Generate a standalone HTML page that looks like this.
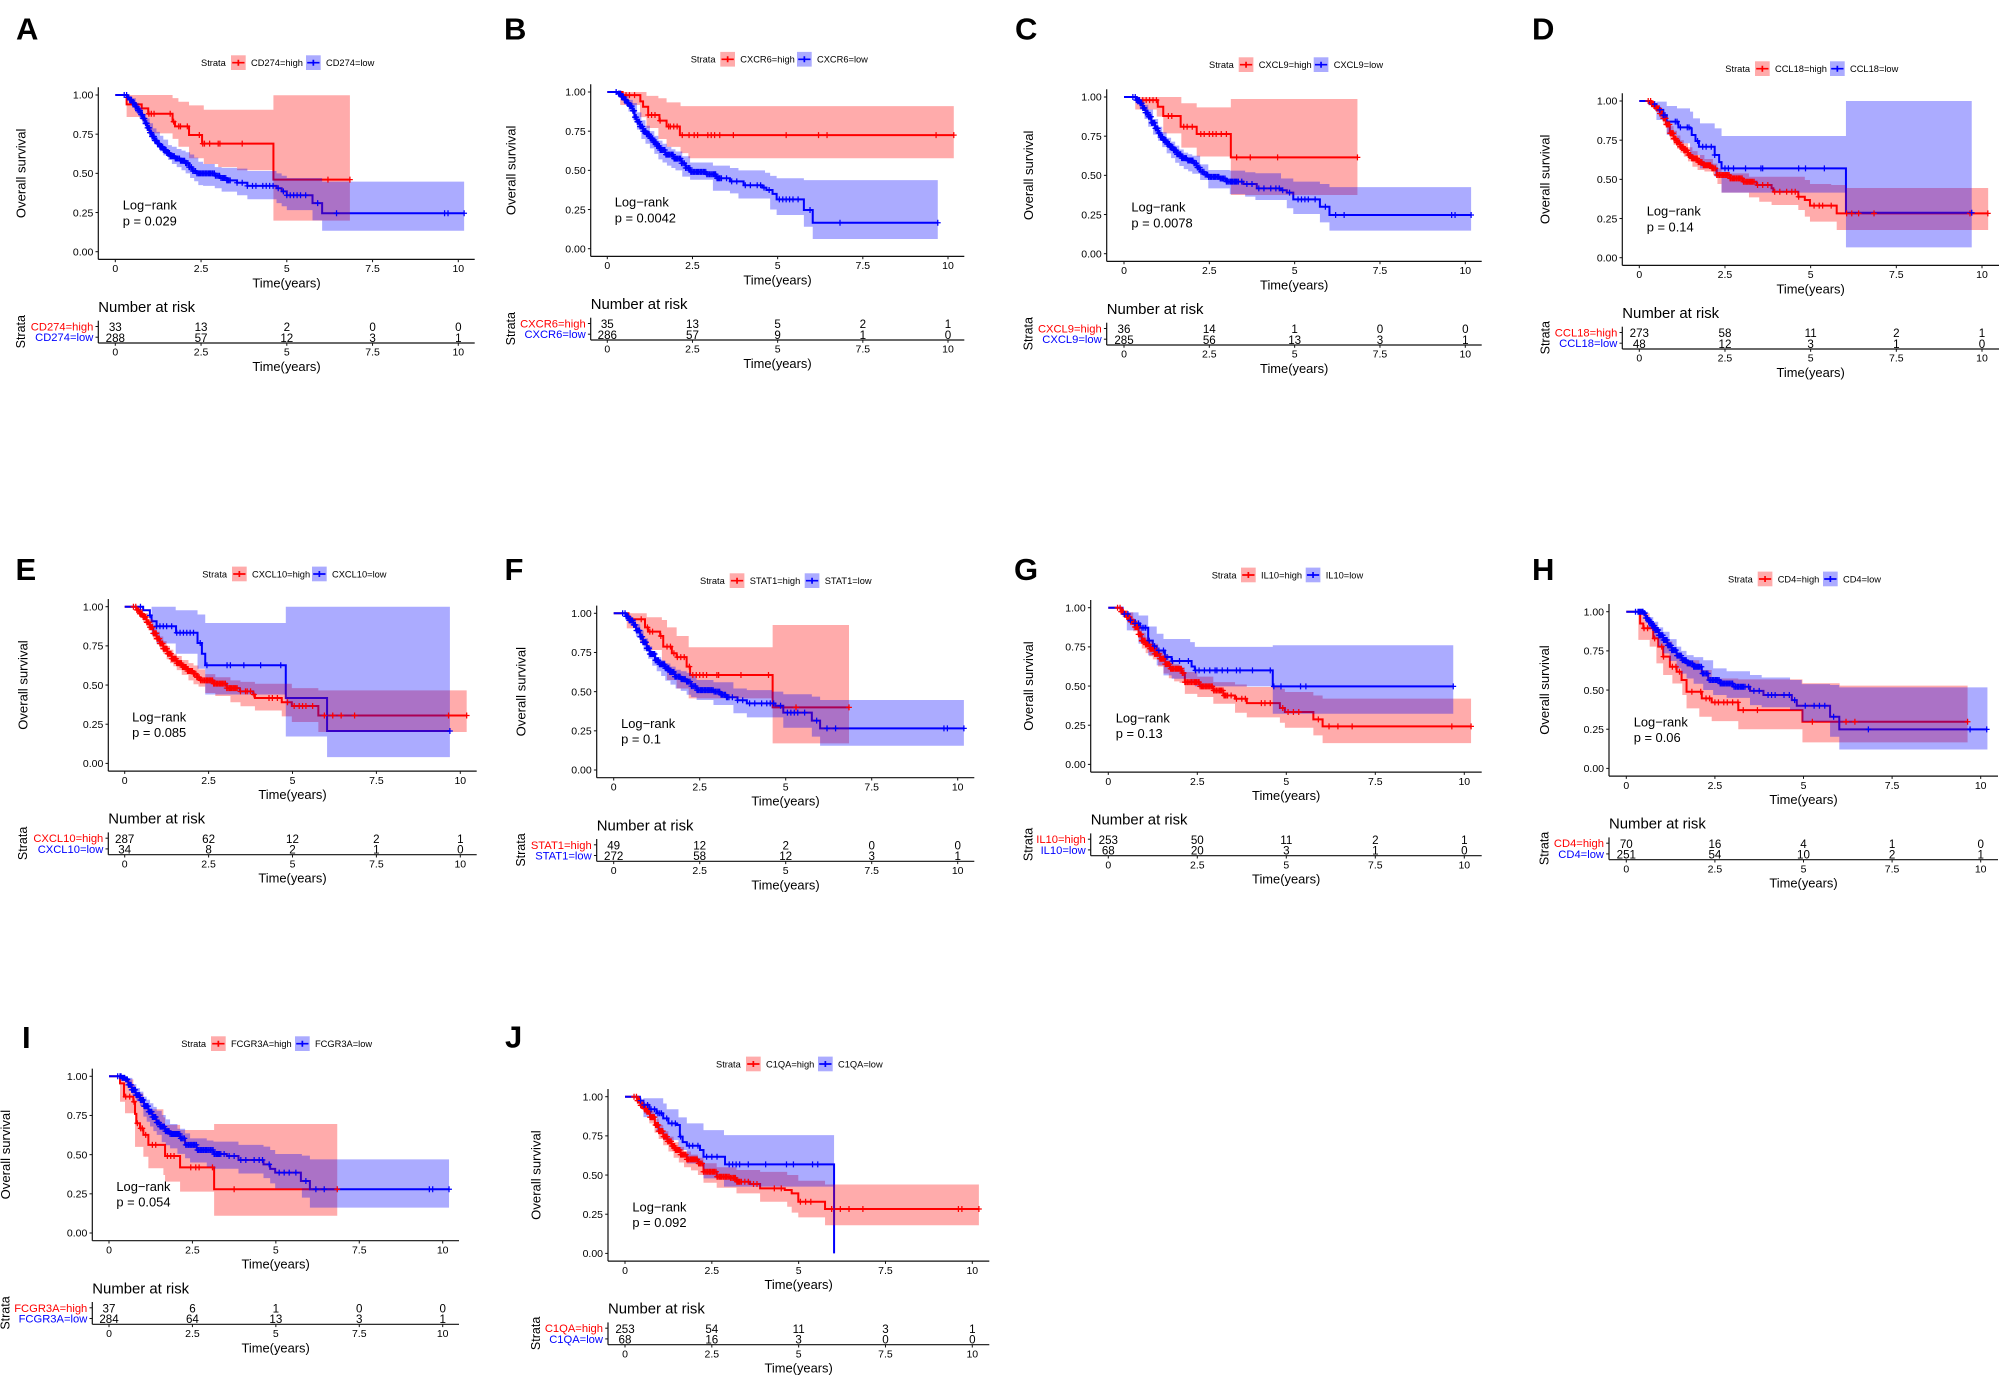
<!DOCTYPE html>
<html lang="en">
<head>
<meta charset="utf-8">
<title>Kaplan-Meier survival panels</title>
<style>
html,body{margin:0;padding:0;background:#fff}
svg{display:block;font-family:"Liberation Sans",Arial,sans-serif}
</style>
</head>
<body>
<svg id="figure" xmlns="http://www.w3.org/2000/svg" width="2000" height="1376" viewBox="0 0 2000 1376">
<rect x="0" y="0" width="2000" height="1376" fill="#fff"/>
</svg>
<script>
const xTicks=[0,2.5,5,7.5,10];
const xTickLabels=['0','2.5','5','7.5','10'];
const yTicks=[0,0.25,0.5,0.75,1];
const yTickLabels=['0.00','0.25','0.50','0.75','1.00'];
const panelLetters=['A','B','C','D','E','F','G','H','I','J'];
const highLabels=['CD274=high','CXCR6=high','CXCL9=high','CCL18=high','CXCL10=high','STAT1=high','IL10=high','CD4=high','FCGR3A=high','C1QA=high'];
const lowLabels=['CD274=low','CXCR6=low','CXCL9=low','CCL18=low','CXCL10=low','STAT1=low','IL10=low','CD4=low','FCGR3A=low','C1QA=low'];
const pValues=['p = 0.029','p = 0.0042','p = 0.0078','p = 0.14','p = 0.085','p = 0.1','p = 0.13','p = 0.06','p = 0.054','p = 0.092'];
const riskHigh=[[33,13,2,0,0],[35,13,5,2,1],[36,14,1,0,0],[273,58,11,2,1],[287,62,12,2,1],[49,12,2,0,0],[253,50,11,2,1],[70,16,4,1,0],[37,6,1,0,0],[253,54,11,3,1]];
const riskLow=[[288,57,12,3,1],[286,57,9,1,0],[285,56,13,3,1],[48,12,3,1,0],[34,8,2,1,0],[272,58,12,3,1],[68,20,3,1,0],[251,54,10,2,1],[284,64,13,3,1],[68,16,3,0,0]];

/* shared early censoring times of the large groups */
const denseEarly=[.26,.33,.36,.39,.42,.45,.47,.5,.52,.55,.58,.6,.63,.66,.68,.7,.72,.75,.77,.79,.81,.83,.85,.88,.9,.92,.94,.96,.97,.99,1.01,1.03,1.05,1.07,1.09,1.11,1.13,1.15,1.17,1.19,1.21,1.23,1.26,1.28,1.3,1.33,1.35,1.38,1.4,1.43,1.45,1.48,1.5,1.53,1.55,1.58,1.6,1.63,1.66,1.69,1.72,1.75,1.78,1.8,1.83,1.87,1.9,1.93,1.96,1.99,2.02,2.05,2.08,2.12,2.15,2.18,2.22,2.26,2.3,2.34,2.38,2.42,2.45,2.48,2.52,2.55,2.58,2.62,2.65,2.68,2.72,2.75,2.78,2.82,2.85,2.89,2.92,2.96,3,3.04,3.08,3.12,3.15,3.18,3.22,3.25,3.28,3.31,3.35];

/* A */
const aHighCurve=[[0,1],[.33,.94],[.77,.915],[.96,.88],[1.67,.83],[1.74,.8],[2.15,.745],[2.53,.69],[4.61,.46],[6.84,.46]];
const aHighBand=[[.33,1,.86],[.77,1,.836],[.96,1,.755],[1.67,.98,.72],[1.84,.957,.67],[2.15,.934,.596],[2.58,.906,.56],[3,.906,.54],[3.55,.906,.52],[4.61,.998,.198],[6.84,.998,.198]];
const aHighCensor=[.98,1.05,1.13,1.6,1.7,1.85,1.9,2.1,2.45,2.55,2.6,2.75,3,3.05,3.7,6.2,6.84];
const aLowCurve=[[0,1],[.28,1],[.35,.985],[.42,.97],[.5,.95],[.58,.925],[.66,.9],[.74,.875],[.8,.85],[.87,.82],[.93,.79],[1,.76],[1.07,.735],[1.14,.71],[1.22,.69],[1.3,.67],[1.4,.65],[1.5,.63],[1.6,.61],[1.75,.595],[1.9,.58],[2.05,.565],[2.15,.54],[2.25,.515],[2.37,.5],[2.9,.485],[3.05,.47],[3.25,.455],[3.55,.44],[3.85,.42],[4.7,.405],[4.85,.385],[5,.36],[5.75,.31],[6.03,.245],[10.17,.245]];
const aLowBand=[[.28,1,1],[.4,.99,.95],[.5,.98,.92],[.6,.95,.885],[.7,.92,.85],[.8,.88,.81],[.9,.85,.77],[1,.82,.74],[1.1,.787,.713],[1.2,.765,.68],[1.3,.74,.64],[1.4,.715,.615],[1.54,.68,.585],[1.65,.67,.56],[1.79,.655,.54],[1.93,.645,.52],[2.05,.635,.5],[2.18,.62,.47],[2.3,.6,.45],[2.42,.574,.425],[2.56,.56,.42],[2.9,.54,.405],[3.1,.535,.383],[3.55,.53,.36],[3.85,.515,.335],[4.7,.5,.31],[4.85,.485,.29],[5,.47,.265],[5.75,.47,.2],[6.03,.447,.134],[10.17,.447,.134]];
const aLowCensor=[3.55,3.7,3.85,4,4.1,4.3,4.4,4.5,4.6,4.75,4.9,5,5.1,5.2,5.3,5.4,5.55,5.9,6.45,9.6,9.7,10.17];

/* B */
const bHighCurve=[[0,1],[.45,.98],[.97,.94],[1.05,.906],[1.2,.853],[1.53,.817],[1.74,.78],[2.13,.725],[10.17,.725]];
const bHighBand=[[.38,1,.917],[.96,1,.84],[1.15,.975,.77],[1.5,.96,.7],[1.74,.934,.65],[2.15,.91,.61],[2.38,.91,.577],[10.17,.91,.577]];
const bHighCensor=[.55,.65,.8,1.2,1.3,1.4,1.55,1.8,1.85,1.95,2.05,2.2,2.4,2.55,2.65,2.95,3.05,3.15,3.3,3.7,5.25,6.2,6.45,9.65,10.17];
const bLowCurve=[[0,1],[.3,.99],[.4,.97],[.5,.95],[.58,.93],[.66,.91],[.74,.88],[.8,.84],[.86,.81],[.96,.78],[1.05,.75],[1.15,.73],[1.25,.705],[1.35,.68],[1.45,.655],[1.55,.63],[1.7,.6],[1.94,.575],[2.18,.545],[2.3,.515],[2.43,.49],[2.9,.475],[3.2,.45],[3.6,.43],[4,.405],[4.55,.39],[4.67,.375],[4.85,.35],[4.97,.315],[5.77,.247],[6.03,.166],[9.7,.166]];
const bLowBand=[[.3,1,1],[.4,.99,.95],[.5,.98,.92],[.62,.95,.875],[.75,.93,.82],[.87,.87,.76],[1,.82,.7],[1.12,.785,.67],[1.25,.75,.64],[1.38,.72,.605],[1.5,.69,.57],[1.62,.67,.55],[1.75,.65,.53],[1.88,.635,.515],[2,.62,.5],[2.2,.59,.46],[2.43,.55,.44],[3.1,.53,.37],[3.6,.515,.353],[3.85,.5,.32],[4.63,.485,.32],[4.78,.465,.25],[4.97,.45,.215],[5.77,.438,.14],[6.03,.438,.062],[9.7,.438,.062]];
const bLowCensor=[3.5,3.65,3.8,4.05,4.2,4.4,4.5,4.6,4.75,5.05,5.15,5.25,5.35,5.45,5.6,5.95,6.83,9.7];

/* C */
const cHighCurve=[[0,1],[.37,.98],[.99,.938],[1.15,.879],[1.66,.81],[2.13,.764],[3.13,.615],[6.84,.615]];
const cHighBand=[[.33,1,.92],[.96,1,.875],[1.15,1,.768],[1.68,.96,.677],[2.13,.934,.62],[3.13,.987,.375],[6.84,.987,.375]];
const cHighCensor=[.45,.55,.65,.75,.85,.95,1.3,1.4,1.75,1.85,2,2.25,2.35,2.5,2.6,2.7,2.85,3,3.3,3.7,4.5,6.84];
const cLowCurve=[[0,1],[.28,1],[.35,.98],[.47,.96],[.55,.93],[.63,.9],[.71,.874],[.8,.835],[.91,.8],[1,.77],[1.07,.745],[1.15,.725],[1.25,.7],[1.35,.68],[1.45,.66],[1.55,.635],[1.69,.61],[1.85,.595],[2.03,.577],[2.13,.55],[2.23,.523],[2.35,.505],[2.47,.49],[2.81,.48],[3,.46],[3.5,.445],[3.89,.417],[4.6,.405],[4.77,.39],[4.96,.347],[5.74,.3],[6.02,.247],[10.17,.247]];
const cLowBand=[[.28,1,1],[.38,.99,.95],[.47,.98,.92],[.6,.95,.86],[.71,.92,.81],[.85,.86,.76],[1,.81,.72],[1.12,.775,.68],[1.25,.74,.64],[1.38,.715,.61],[1.5,.69,.58],[1.62,.665,.56],[1.75,.645,.54],[1.88,.635,.525],[2,.625,.51],[2.23,.57,.47],[2.47,.534,.417],[3.1,.53,.38],[3.55,.52,.364],[3.85,.513,.343],[4.6,.48,.343],[4.77,.48,.29],[4.96,.46,.253],[5.74,.445,.2],[6.02,.425,.147],[10.17,.425,.147]];
const cLowCensor=[3.45,3.6,3.75,3.95,4.1,4.3,4.45,4.55,4.65,4.85,5.1,5.2,5.3,5.4,5.6,5.9,6.2,6.45,9.6,9.7,10.17];

/* D */
const dHighCurve=[[0,1],[.26,1],[.35,.98],[.43,.965],[.5,.953],[.6,.92],[.7,.889],[.78,.85],[.89,.794],[1,.76],[1.09,.735],[1.19,.708],[1.3,.685],[1.42,.655],[1.53,.634],[1.7,.61],[1.87,.59],[2.11,.57],[2.26,.528],[2.65,.506],[3.03,.485],[3.42,.464],[3.86,.443],[3.91,.421],[4.64,.389],[4.83,.368],[4.98,.332],[5.76,.283],[10.18,.283]];
const dHighBand=[[.26,1,1],[.4,.985,.95],[.5,.97,.93],[.6,.945,.895],[.7,.915,.85],[.8,.875,.79],[.9,.84,.75],[1,.81,.72],[1.1,.78,.695],[1.2,.75,.67],[1.3,.73,.645],[1.42,.705,.615],[1.55,.68,.58],[1.7,.655,.56],[1.9,.63,.55],[2.15,.6,.53],[2.28,.57,.47],[2.4,.538,.415],[3.2,.517,.385],[3.5,.517,.357],[3.86,.517,.336],[4.64,.517,.304],[4.83,.496,.262],[4.98,.47,.23],[5.6,.464,.23],[5.76,.464,.177],[6.03,.445,.177],[10.18,.445,.177]];
const dHighCensor=[3.45,3.6,3.75,3.95,4.1,4.3,4.45,4.55,4.65,5.1,5.25,5.35,5.6,6.05,6.2,6.4,6.85,9.65,10.17];
const dLowCurve=[[0,1],[.3,.98],[.5,.943],[.7,.91],[.8,.868],[1.14,.832],[1.48,.825],[1.53,.783],[1.64,.745],[1.74,.708],[2.2,.655],[2.33,.61],[2.4,.57],[6.03,.287],[9.7,.287]];
const dLowBand=[[.5,.996,.879],[.8,.968,.783],[1.1,.953,.73],[1.48,.932,.655],[1.57,.889,.655],[1.77,.857,.57],[2.2,.825,.517],[2.4,.777,.415],[6.03,1,.066],[9.7,1,.066]];
const dLowCensor=[.45,.6,.7,.75,1.05,1.1,1.2,1.4,1.45,1.7,1.85,1.95,2.1,2.2,2.5,2.6,2.75,3.1,3.55,3.6,4.65,4.85,5.4,9.7];

/* E */
const eHighCurve=[[0,1],[.26,1],[.35,.98],[.45,.955],[.55,.934],[.65,.9],[.75,.87],[.85,.83],[.95,.796],[1.05,.765],[1.15,.732],[1.27,.7],[1.4,.668],[1.55,.64],[1.7,.615],[1.87,.59],[2.05,.572],[2.15,.55],[2.25,.53],[2.65,.509],[3.04,.48],[3.43,.46],[3.83,.44],[3.88,.417],[4.68,.39],[4.98,.366],[5.77,.306],[10.19,.306]];
const eHighBand=[[.26,1,1],[.4,.985,.95],[.55,.96,.9],[.7,.92,.85],[.85,.87,.79],[.95,.84,.76],[1.05,.81,.73],[1.15,.78,.7],[1.25,.75,.665],[1.35,.725,.64],[1.45,.7,.62],[1.55,.685,.595],[1.7,.66,.565],[1.9,.64,.53],[2.05,.625,.505],[2.2,.6,.49],[2.4,.57,.449],[2.7,.55,.43],[3.15,.53,.39],[3.45,.52,.365],[3.88,.508,.338],[4.68,.508,.3],[4.98,.48,.264],[5.77,.466,.2],[10.19,.466,.2]];
const eHighCensor=[3.45,3.6,3.65,3.75,3.85,4.3,4.4,4.55,4.85,5.05,5.2,5.3,5.4,5.6,5.95,6.2,6.45,6.85,9.65,10.19];
const eLowCurve=[[0,1],[.46,1],[.55,.977],[.75,.945],[.8,.907],[.95,.875],[1.53,.834],[2.17,.768],[2.3,.7],[2.4,.626],[4.8,.417],[6.03,.207],[9.69,.207]];
const eLowBand=[[.55,1,1],[.8,1,.82],[.95,1,.765],[1.52,.977,.7],[2.17,.95,.604],[2.4,.896,.44],[4.8,1,.172],[6.03,1,.04],[9.69,1,.04]];
const eLowCensor=[.47,.75,.95,1.05,1.15,1.25,1.4,1.55,1.65,1.75,1.85,1.95,2.05,2.25,2.45,3.05,3.15,3.55,4.05,4.65,9.69];

/* F */
const fHighCurve=[[0,1],[.43,.962],[.91,.91],[1,.883],[1.35,.855],[1.44,.787],[1.69,.745],[1.83,.72],[2.12,.66],[2.22,.606],[4.62,.4],[6.84,.4]];
const fHighBand=[[.38,1,.904],[.77,1,.81],[.96,.975,.766],[1.4,.957,.68],[1.55,.91,.574],[1.83,.855,.52],[2.18,.783,.457],[4.62,.925,.17],[6.84,.925,.17]];
const fHighCensor=[.5,.8,.98,1.05,1.13,1.37,1.55,1.65,1.75,1.85,1.95,2.05,2.2,2.3,2.4,2.5,2.6,2.7,3,3.05,3.7,4.5,5.3,6.84];
const fLowCurve=[[0,1],[.28,1],[.36,.98],[.45,.955],[.57,.926],[.65,.89],[.77,.85],[.85,.815],[.96,.777],[1.05,.74],[1.2,.7],[1.32,.675],[1.49,.649],[1.62,.625],[1.78,.596],[1.95,.58],[2.12,.564],[2.25,.535],[2.41,.51],[2.9,.5],[3.1,.48],[3.28,.464],[3.6,.445],[3.87,.425],[4.7,.41],[4.93,.366],[5.76,.315],[6,.266],[10.18,.266]];
const fLowBand=[[.28,1,1],[.4,.985,.95],[.5,.965,.92],[.65,.93,.85],[.77,.89,.81],[.87,.84,.76],[1,.79,.71],[1.12,.755,.665],[1.25,.72,.63],[1.38,.7,.6],[1.5,.68,.57],[1.65,.66,.545],[1.8,.64,.52],[1.95,.63,.505],[2.12,.62,.48],[2.25,.6,.465],[2.41,.574,.447],[2.9,.56,.415],[3.48,.52,.362],[3.87,.51,.336],[4.6,.5,.336],[4.93,.483,.27],[5.76,.468,.213],[6,.447,.155],[10.18,.447,.155]];
const fLowCensor=[3.45,3.6,3.75,3.95,4.1,4.3,4.45,4.55,4.65,4.85,5.05,5.15,5.25,5.35,5.55,5.9,6.2,6.45,9.6,9.7,10.18];

/* G */
const gHighCurve=[[0,1],[.25,1],[.35,.975],[.43,.96],[.52,.94],[.63,.91],[.75,.877],[.85,.83],[.94,.79],[1.05,.765],[1.17,.738],[1.3,.705],[1.45,.674],[1.6,.64],[1.73,.61],[2.06,.583],[2.15,.525],[2.57,.498],[2.95,.472],[3.23,.44],[3.56,.419],[3.89,.391],[4.82,.36],[4.96,.334],[5.76,.287],[6.02,.243],[10.19,.243]];
const gHighBand=[[.25,1,1],[.4,.985,.94],[.55,.97,.91],[.7,.92,.85],[.85,.87,.78],[.94,.84,.74],[1.05,.81,.71],[1.15,.79,.69],[1.25,.77,.67],[1.4,.73,.625],[1.55,.7,.58],[1.7,.665,.55],[1.85,.64,.53],[2,.62,.52],[2.15,.59,.45],[2.5,.56,.43],[2.95,.525,.387],[3.56,.51,.33],[3.89,.494,.3],[4.82,.483,.266],[4.96,.462,.234],[5.76,.44,.185],[6.02,.42,.136],[10.19,.42,.136]];
const gHighCensor=[3.45,3.6,3.75,3.85,4.3,4.4,4.55,4.9,5.05,5.2,5.35,5.9,6.2,6.45,6.85,9.65,10.19];
const gLowCurve=[[0,1],[.25,1],[.4,.96],[.56,.92],[.75,.9],[.89,.872],[1.12,.79],[1.25,.755],[1.36,.727],[1.59,.685],[1.78,.66],[2.34,.625],[2.43,.6],[4.62,.498],[9.69,.498]];
const gLowBand=[[.52,.97,.855],[.85,.95,.77],[1.12,.88,.696],[1.36,.834,.632],[1.55,.8,.568],[1.78,.8,.547],[2.3,.78,.52],[2.43,.75,.498],[4.62,.76,.323],[9.69,.76,.323]];
const gLowCensor=[.45,.55,.62,.75,.85,.95,1,1.05,1.15,1.3,1.42,1.55,1.65,1.8,2,2.25,2.45,2.55,2.7,2.85,3,3.05,3.2,3.35,3.6,3.7,4.05,4.55,4.65,4.85,5.4,5.55,9.69];

/* H */
const hHighCurve=[[0,1],[.27,1],[.39,.925],[.48,.894],[.76,.83],[.9,.777],[1.04,.713],[1.23,.649],[1.42,.617],[1.56,.564],[1.7,.489],[2.13,.447],[2.41,.421],[3.16,.372],[4.97,.298],[9.63,.298]];
const hHighBand=[[.34,.99,.82],[.66,.925,.777],[.85,.862,.67],[1.04,.81,.596],[1.3,.734,.542],[1.58,.69,.468],[1.7,.69,.383],[2.06,.628,.33],[2.41,.574,.302],[3.16,.568,.25],[4.97,.543,.166],[6.02,.528,.166],[9.63,.528,.166]];
const hHighCensor=[.5,.6,.8,1,1.05,1.3,1.4,1.5,1.85,2.1,2.25,2.35,2.5,2.6,2.75,2.85,3,3.15,3.3,3.7,5.25,6.2,6.45,9.63];
const hLowCurve=[[0,1],[.27,1],[.48,.99],[.55,.96],[.62,.936],[.72,.91],[.81,.883],[.92,.85],[1.04,.819],[1.16,.785],[1.28,.755],[1.42,.72],[1.56,.691],[1.7,.67],[1.89,.649],[2.13,.606],[2.31,.564],[2.64,.542],[3.02,.521],[3.49,.495],[3.87,.468],[4.67,.436],[4.81,.4],[5.75,.33],[6.01,.249],[10.19,.249]];
const hLowBand=[[.48,1,.99],[.62,.965,.89],[.76,.936,.83],[.9,.9,.78],[1.04,.872,.734],[1.22,.825,.685],[1.42,.777,.638],[1.55,.75,.605],[1.7,.723,.574],[1.9,.71,.54],[2.17,.69,.5],[2.45,.638,.468],[2.83,.62,.45],[3.49,.596,.404],[3.82,.58,.39],[4.62,.564,.372],[4.95,.538,.298],[5.75,.532,.202],[6.01,.517,.121],[10.19,.517,.121]];
const hLowCensor=[3.45,3.6,3.75,4,4.1,4.2,4.45,4.6,4.75,5.05,5.3,5.45,5.6,5.85,6.83,9.7,10.17];

/* I */
const iHighCurve=[[0,1],[.33,.955],[.45,.87],[.73,.838],[.78,.76],[.82,.7],[.93,.668],[1.03,.626],[1.18,.562],[1.68,.491],[2.13,.419],[3.15,.279],[6.84,.279]];
const iHighBand=[[.33,.98,.838],[.48,.98,.764],[.73,.945,.764],[.78,.89,.55],[1.03,.83,.487],[1.18,.79,.413],[1.63,.738,.37],[1.68,.69,.328],[2.13,.657,.264],[3.15,.696,.11],[6.84,.696,.11]];
const iHighCensor=[.5,.62,.75,.85,.95,1,1.1,1.3,1.4,1.75,1.85,1.95,2.45,2.6,2.7,3.1,3.75,6.84];
const iLowCurve=[[0,1],[.28,1],[.38,.99],[.48,.98],[.58,.945],[.68,.913],[.8,.88],[.93,.849],[1.05,.81],[1.18,.774],[1.3,.74],[1.42,.705],[1.53,.679],[1.68,.65],[1.83,.632],[2.13,.604],[2.28,.562],[2.63,.53],[3.13,.504],[3.53,.491],[3.88,.466],[4.63,.438],[4.83,.409],[4.98,.385],[5.75,.332],[6.02,.279],[10.19,.279]];
const iLowBand=[[.28,1,1],[.53,.99,.95],[.7,.95,.88],[.82,.925,.84],[.93,.902,.81],[1.03,.87,.743],[1.13,.85,.71],[1.23,.828,.68],[1.33,.805,.65],[1.43,.78,.626],[1.58,.753,.58],[1.7,.725,.56],[1.83,.696,.54],[2.05,.665,.505],[2.28,.636,.477],[2.43,.604,.45],[2.93,.59,.423],[3.13,.583,.41],[3.88,.562,.38],[4.63,.551,.35],[4.83,.53,.317],[4.98,.504,.285],[5.78,.494,.226],[6.02,.47,.162],[10.19,.47,.162]];
const iLowCensor=[3.45,3.6,3.75,3.95,4.1,4.35,4.5,4.6,4.8,5.1,5.25,5.4,5.6,5.9,6.2,6.45,9.6,9.7,10.19];

/* J */
const jHighCurve=[[0,1],[.26,1],[.36,.975],[.45,.945],[.53,.925],[.62,.904],[.72,.87],[.86,.819],[.97,.78],[1.1,.745],[1.22,.715],[1.34,.685],[1.44,.66],[1.6,.63],[1.78,.6],[2.11,.574],[2.26,.521],[2.64,.489],[3.02,.482],[3.21,.457],[3.6,.443],[3.89,.415],[4.6,.405],[4.8,.383],[4.99,.33],[5.76,.283],[10.19,.283]];
const jHighBand=[[.26,1,1],[.4,.98,.94],[.55,.96,.89],[.7,.91,.83],[.85,.86,.77],[.97,.82,.73],[1.1,.78,.69],[1.25,.745,.65],[1.4,.71,.61],[1.55,.68,.58],[1.7,.65,.55],[1.9,.63,.53],[2.1,.61,.5],[2.26,.575,.451],[2.64,.55,.419],[3.21,.532,.383],[3.89,.52,.33],[4.67,.5,.298],[4.8,.5,.26],[4.99,.464,.23],[5.76,.44,.18],[10.19,.44,.18]];
const jHighCensor=[3.45,3.55,3.7,3.8,4.3,4.5,5.05,5.2,5.35,5.95,6.2,6.45,6.85,9.6,9.7,10.19];
const jLowCurve=[[0,1],[.3,1],[.43,.975],[.53,.947],[.7,.92],[.91,.894],[1.1,.862],[1.25,.83],[1.49,.819],[1.58,.745],[1.66,.71],[1.78,.687],[2.16,.66],[2.26,.617],[2.88,.568],[6.02,0]];
const jLowBand=[[.53,.99,.87],[.91,.99,.777],[1.1,.957,.723],[1.2,.92,.723],[1.54,.868,.66],[1.78,.83,.574],[2.26,.787,.479],[2.85,.755,.426],[6.02,.755,.426]];
const jLowCensor=[.45,.55,.65,.75,.85,.95,1,1.05,1.2,1.35,1.45,1.6,1.85,1.95,2.1,2.35,2.5,2.65,3,3.1,3.2,3.3,3.55,4.05,4.65,4.85,5.4,5.55];

const highCurves=[aHighCurve,bHighCurve,cHighCurve,dHighCurve,eHighCurve,fHighCurve,gHighCurve,hHighCurve,iHighCurve,jHighCurve];
const highBands=[aHighBand,bHighBand,cHighBand,dHighBand,eHighBand,fHighBand,gHighBand,hHighBand,iHighBand,jHighBand];
const highCensors=[aHighCensor,bHighCensor,cHighCensor,dHighCensor.concat(denseEarly),eHighCensor.concat(denseEarly),fHighCensor,gHighCensor.concat(denseEarly),hHighCensor,iHighCensor,jHighCensor.concat(denseEarly)];
const lowCurves=[aLowCurve,bLowCurve,cLowCurve,dLowCurve,eLowCurve,fLowCurve,gLowCurve,hLowCurve,iLowCurve,jLowCurve];
const lowBands=[aLowBand,bLowBand,cLowBand,dLowBand,eLowBand,fLowBand,gLowBand,hLowBand,iLowBand,jLowBand];
const lowCensors=[aLowCensor.concat(denseEarly),bLowCensor.concat(denseEarly),cLowCensor.concat(denseEarly),dLowCensor,eLowCensor,fLowCensor.concat(denseEarly),gLowCensor,hLowCensor.concat(denseEarly),iLowCensor.concat(denseEarly),jLowCensor];

/* page layout of each panel (not data) */
const frames=[
{ax:98.3,x0:115.3,x10:458.3,y1:95,right:474.7,labX:20.7,legY:62.7,strata:201,box1:231,box2:306,letX:16,letY:39.3},
{ax:590.7,x0:607.3,x10:948,y1:92,right:964.3,labX:510.7,legY:59.3,strata:690.7,box1:720.3,box2:797,letX:504,letY:39.3},
{ax:1106.7,x0:1124,x10:1465.3,y1:97,right:1481.7,labX:1028.3,legY:64.7,strata:1209,box1:1238.7,box2:1313.7,letX:1015,letY:39.3},
{ax:1622.3,x0:1639.3,x10:1982,y1:101,right:1999,labX:1545,legY:68.7,strata:1725.3,box1:1755,box2:1830,letX:1532,letY:39.3},
{ax:108.3,x0:124.7,x10:460.3,y1:606.7,right:476.7,labX:22.7,legY:574,strata:202.3,box1:232,box2:312,letX:15.5,letY:580},
{ax:596.7,x0:613.7,x10:957.7,y1:613.3,right:974.3,labX:520.7,legY:580.7,strata:700,box1:729.7,box2:804.7,letX:504.5,letY:580},
{ax:1090.7,x0:1108.3,x10:1464.3,y1:607.7,right:1481.7,labX:1028.3,legY:575,strata:1211.7,box1:1241,box2:1305.7,letX:1014,letY:580},
{ax:1609,x0:1626.3,x10:1980.7,y1:611.7,right:1998,labX:1544.3,legY:579,strata:1728,box1:1757.7,box2:1823,letX:1532,letY:580},
{ax:92.3,x0:109,x10:442.7,y1:1076.3,right:459,labX:5.3,legY:1043.7,strata:181.3,box1:211,box2:295,letX:22,letY:1048},
{ax:608,x0:625,x10:972.3,y1:1096.7,right:989.3,labX:535.7,legY:1064,strata:716,box1:746,box2:818,letX:505,letY:1047.7}
];
const plotHeight=156.7;
const RED='#ff0000';
const BLUE='#0000ff';
const NS='http://www.w3.org/2000/svg';
const INK='#111';

function node(tag,attrs,parent){
  const el=document.createElementNS(NS,tag);
  for(const k in attrs){el.setAttribute(k,attrs[k]);}
  parent.appendChild(el);
  return el;
}
function label(parent,x,y,str,size,anchor,fill,rotate){
  const el=node('text',{x:x,y:y+size*0.355,'font-size':size,'text-anchor':anchor||'start',fill:fill||'#000'},parent);
  if(rotate){el.setAttribute('transform','rotate(-90 '+x+' '+y+')');el.setAttribute('y',y+size*0.355);}
  el.textContent=str;
  return el;
}
function stepPath(curve,sx,sy){
  let d='M'+sx(curve[0][0]).toFixed(2)+' '+sy(curve[0][1]).toFixed(2);
  for(let i=1;i<curve.length;i++){
    d+='H'+sx(curve[i][0]).toFixed(2)+'V'+sy(curve[i][1]).toFixed(2);
  }
  return d;
}
function bandPath(band,sx,sy){
  let d='M'+sx(band[0][0]).toFixed(2)+' '+sy(band[0][1]).toFixed(2);
  for(let i=1;i<band.length;i++){
    d+='H'+sx(band[i][0]).toFixed(2)+'V'+sy(band[i][1]).toFixed(2);
  }
  for(let i=band.length-1;i>=0;i--){
    d+='V'+sy(band[i][2]).toFixed(2);
    if(i>0){d+='H'+sx(band[i][0]).toFixed(2);}
    if(i>0){d+='V'+sy(band[i-1][2]).toFixed(2);}
  }
  d+='H'+sx(band[0][0]).toFixed(2)+'Z';
  return d;
}
function survivalAt(curve,t){
  let s=curve[0][1];
  for(let i=0;i<curve.length;i++){
    if(curve[i][0]<=t){s=curve[i][1];}
  }
  return s;
}
function xAxisBlock(g,f,sx,axisY){
  const line=node('line',{x1:f.ax,x2:f.right,y1:axisY,y2:axisY,stroke:INK,'stroke-width':1.2},g);
  
  
  xTicks.forEach(function(v,i){
    const tick=node('line',{x1:sx(v),x2:sx(v),y1:axisY,y2:axisY+2.8,stroke:INK,'stroke-width':1},g);
    
    
    const tl=label(g,sx(v),axisY+9,xTickLabels[i],10.5,'middle');
    
    
  });
  const title=label(g,(f.ax+f.right)/2,axisY+23.4,'Time(years)',12.9,'middle');
  
  
}

const root=document.getElementById('figure');
frames.forEach(function(f,p){
  const y0=f.y1+plotHeight;
  const sx=function(t){return f.x0+(f.x10-f.x0)*t/10;};
  const sy=function(s){return y0-plotHeight*s;};
  const g=node('g',{},root);
  
  

  const letter=node('text',{x:f.letX,y:f.letY,'font-size':31,'font-weight':'bold',fill:'#000'},g);
  letter.textContent=panelLetters[p];
  
  

  /* legend */
  const strata=label(g,f.strata,f.legY,'Strata',9.3);
  
  
  [[f.box1,RED,highLabels[p],'legend-entry-high'],[f.box2,BLUE,lowLabels[p],'legend-entry-low']].forEach(function(e){
    const lg=node('g',{},g);
    
    
    node('rect',{x:e[0],y:f.legY-7.4,width:14.7,height:14.7,fill:e[1],'fill-opacity':.33},lg);
    node('path',{d:'M'+(e[0]+1.2)+' '+f.legY+'h12.3M'+(e[0]+7.35)+' '+(f.legY-3)+'v6',stroke:e[1],'stroke-width':1.7,fill:'none'},lg);
    label(lg,e[0]+20,f.legY,e[2],9.3);
  });

  /* survival layers: lines below ribbons, censor marks on top */
  const curveData=[[highCurves[p],RED,'curve-high'],[lowCurves[p],BLUE,'curve-low']];
  curveData.forEach(function(c){
    const line=node('path',{d:stepPath(c[0],sx,sy),fill:'none',stroke:c[1],'stroke-width':2},g);
    
    
  });
  const bandData=[[highBands[p],RED,'confidence-band-high'],[lowBands[p],BLUE,'confidence-band-low']];
  bandData.forEach(function(b){
    const band=node('path',{d:bandPath(b[0],sx,sy),fill:b[1],'fill-opacity':.33,stroke:'none'},g);
    
    
  });
  const censorData=[[highCensors[p],highCurves[p],RED],[lowCensors[p],lowCurves[p],BLUE]];
  censorData.forEach(function(c){
    const lastT=c[1][c[1].length-1][0];
    c[0].forEach(function(t){
      if(t>lastT){return;}
      const x=sx(t);
      const y=sy(survivalAt(c[1],t));
      const m=node('path',{d:'M'+(x-2.9).toFixed(2)+' '+y.toFixed(2)+'h5.8M'+x.toFixed(2)+' '+(y-3).toFixed(2)+'v6',stroke:c[2],'stroke-width':1.25,fill:'none'},g);
      
      
    });
  });

  /* main axes */
  const yLine=node('line',{x1:f.ax,x2:f.ax,y1:f.y1-7.7,y2:y0+7.7,stroke:INK,'stroke-width':1.2},g);
  
  
  yTicks.forEach(function(v,i){
    const tick=node('line',{x1:f.ax-2.8,x2:f.ax,y1:sy(v),y2:sy(v),stroke:INK,'stroke-width':1},g);
    
    
    const tl=label(g,f.ax-5,sy(v),yTickLabels[i],10.5,'end');
    
    
  });
  xAxisBlock(g,f,sx,y0+7.7);
  const yTitle=label(g,f.labX,(f.y1+y0)/2,'Overall survival',13.1,'middle','#000',true);
  
  

  const logRank=label(g,f.x0+7.4,y0-46.7,'Log\u2212rank',12.9);
  
  
  const pText=label(g,f.x0+7.4,y0-31,pValues[p],12.9);
  
  

  /* risk table */
  const riskAxis=y0+91.3;
  const riskTitle=label(g,f.ax,y0+55,'Number at risk',14.9);
  
  
  const rLine=node('line',{x1:f.ax,x2:f.ax,y1:riskAxis-22.3,y2:riskAxis,stroke:INK,'stroke-width':1.2},g);
  
  
  xAxisBlock(g,f,sx,riskAxis);
  [[riskHigh[p],highLabels[p],RED,riskAxis-16.5,'risk-row-high'],[riskLow[p],lowLabels[p],BLUE,riskAxis-5.8,'risk-row-low']].forEach(function(r){
    const rg=node('g',{},g);
    
    
    node('line',{x1:f.ax-2.8,x2:f.ax,y1:r[3],y2:r[3],stroke:INK,'stroke-width':1},rg);
    label(rg,f.ax-5,r[3],r[1],11.2,'end',r[2]);
    r[0].forEach(function(n,i){
      label(rg,sx(xTicks[i]),r[3]+.6,String(n),11.6,'middle');
    });
  });
  const strataTitle=label(g,f.labX,riskAxis-11.3,'Strata',12.5,'middle','#000',true);
  
  
});
</script>
</body>
</html>
